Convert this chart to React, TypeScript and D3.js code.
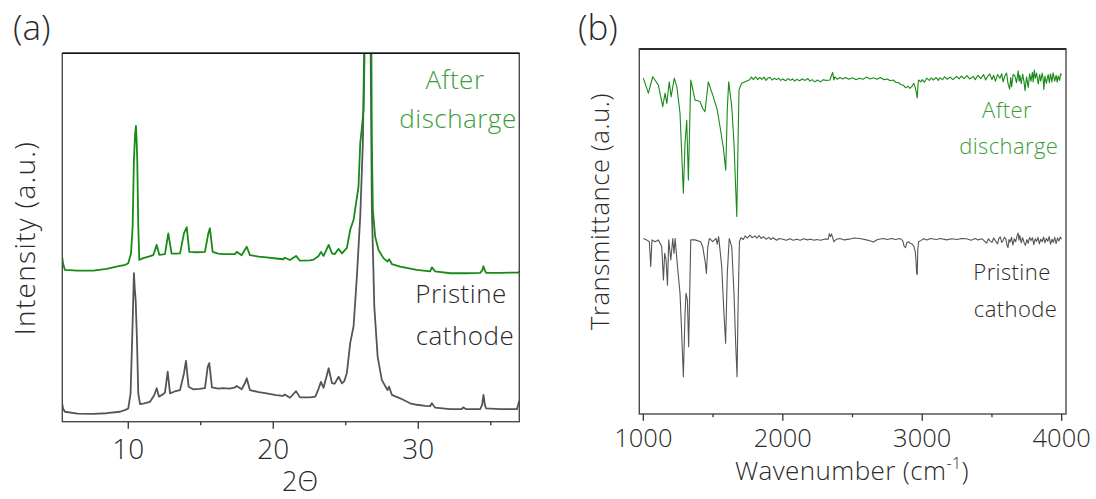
import React from "react";
import * as d3 from "d3";

// ---------- Panel (a): XRD ----------
const xrdPristine: [number, number][] = [
  [5.45, 4.8], [5.5, 3.6], [5.63, 2.7], [6.5, 2.2], [7.59, 2.1], [8.5, 2.3], [9.43, 2.7], [9.8, 3.2], [10.0, 3.6],
  [10.16, 7.7], [10.28, 24.0], [10.39, 40.3], [10.45, 36], [10.51, 33.0], [10.6, 22.2], [10.69, 7.7], [10.81, 4.8],
  [11.1, 5.0], [11.5, 5.4], [11.79, 7.2], [11.96, 9.1], [12.12, 6.8], [12.35, 7.3], [12.53, 7.9], [12.72, 13.6],
  [12.88, 7.7], [13.2, 8.2], [13.57, 8.6], [13.84, 13.1], [13.98, 16.5], [14.16, 9.5], [14.48, 8.8], [14.9, 8.9],
  [15.29, 9.1], [15.48, 14.9], [15.59, 15.9], [15.77, 9.3], [16.2, 9.0], [16.55, 9.1], [17.0, 9.0], [17.36, 9.3],
  [17.48, 9.7], [17.82, 8.8], [18.05, 10.5], [18.17, 11.8], [18.39, 8.6], [19.0, 8.0], [19.54, 7.7], [20.2, 7.2],
  [20.69, 7.0], [20.8, 7.4], [21.15, 6.5], [21.57, 8.3], [21.84, 6.6], [22.53, 6.6], [22.9, 6.8], [23.13, 9.0],
  [23.29, 10.8], [23.47, 9.2], [23.82, 14.5], [24.05, 10.5], [24.23, 10.3], [24.51, 12.2], [24.74, 10.4],
  [24.9, 11.0], [25.08, 13.3], [25.31, 21.4], [25.54, 25.9], [25.77, 39.5], [26.0, 55.8], [26.18, 75.6],
  [26.3, 110], [26.5, 160], [26.7, 110], [26.8, 58], [26.97, 31.2], [27.2, 17.6], [27.49, 11.3], [27.88, 8.6],
  [27.99, 9.5], [28.18, 7.3], [28.75, 6.35], [29.44, 5.0], [29.9, 4.6], [30.5, 4.3], [30.82, 4.2], [30.94, 5.0],
  [31.17, 3.8], [32.2, 3.4], [33.0, 3.4], [33.1, 3.9], [33.3, 3.4], [34.27, 3.4], [34.4, 4.5], [34.5, 7.3],
  [34.6, 4.5], [34.68, 3.6], [35.65, 3.4], [36.8, 3.4], [36.97, 5.6],
];

const xrdDischarged: [number, number][] = [
  [5.45, 44.5], [5.5, 43.0], [5.63, 41.2], [6.5, 41.0], [7.59, 41.0], [8.5, 41.5], [9.43, 42.3], [9.8, 42.6],
  [10.0, 43.0], [10.19, 45.7], [10.3, 52.9], [10.39, 71.0], [10.47, 78], [10.53, 80.3], [10.57, 77], [10.62, 71],
  [10.69, 52.9], [10.76, 43.9], [11.03, 44.4], [11.4, 44.8], [11.72, 45.2], [11.96, 48.0], [12.14, 45.3],
  [12.53, 45.5], [12.76, 51.1], [12.99, 45.6], [13.3, 45.6], [13.57, 45.7], [13.84, 51.1], [14.03, 52.8],
  [14.21, 46.1], [14.7, 46.0], [15.29, 46.1], [15.52, 51.1], [15.63, 52.5], [15.82, 46.1], [16.2, 45.6],
  [16.55, 45.5], [17.36, 45.5], [17.48, 46.1], [17.82, 45.2], [18.17, 47.5], [18.39, 45.2], [19.0, 44.8],
  [19.54, 44.6], [20.2, 44.3], [20.69, 44.1], [20.8, 44.5], [21.15, 43.9], [21.57, 45.0], [21.84, 43.7],
  [22.53, 43.8], [22.78, 44.0], [23.13, 45.0], [23.29, 46.1], [23.47, 45.0], [23.82, 48.0], [24.05, 45.7],
  [24.23, 45.5], [24.51, 46.9], [24.74, 45.7], [25.08, 47.2], [25.31, 52.1], [25.54, 54.8], [25.88, 63.8],
  [26.0, 75.6], [26.11, 79.7], [26.23, 84.7], [26.34, 110], [26.55, 160], [26.76, 110], [26.8, 75.6],
  [26.87, 57.5], [27.03, 50.2], [27.26, 46.6], [27.6, 44.4], [27.88, 43.5], [27.99, 44.1], [28.18, 42.8],
  [28.75, 42.1], [29.9, 41.2], [30.82, 40.8], [30.94, 41.9], [31.17, 40.8], [32.2, 40.3], [33.35, 40.3],
  [34.27, 40.4], [34.4, 41], [34.5, 42.2], [34.6, 41], [34.68, 40.4], [35.65, 40.4], [36.91, 40.5], [36.97, 40.8],
];

const xrdDomain: [number, number] = [5.45, 36.97];
const xrdMajorTicks = [10, 20, 30];
const xrdMinorTicks = [15, 25, 35];

// ---------- Panel (b): FTIR ----------
const ftirDischarged: [number, number][] = [
  [1000, 92.0], [1036, 87.9], [1067, 92.4], [1108, 90.1], [1139, 84.2], [1156, 87.9], [1168, 85.1], [1186, 91.0],
  [1199, 86.9], [1222, 92.0], [1240, 89.7], [1263, 82.4], [1275, 71.4], [1287, 60.5], [1299, 74.2], [1311, 80.5],
  [1323, 64.1], [1340, 91.5], [1371, 86.0], [1390, 85.8], [1406, 85.6], [1426, 83.7], [1442, 82.8], [1466, 91.0],
  [1502, 86.9], [1530, 83.3], [1550, 78.7], [1573, 73.2], [1591, 66.8], [1602, 83.3], [1612, 91.0], [1634, 84.2],
  [1650, 74.2], [1670, 54.1], [1677, 69.6], [1686, 88.8], [1705, 90.6], [1729, 91.0], [1760, 91.5], [1775, 92.3],
  [1790, 91.6], [1805, 92.4], [1820, 91.6], [1835, 92.2], [1850, 91.7], [1865, 92.3], [1880, 91.4], [1895, 92.1],
  [1908, 92.2], [1925, 91.5], [1940, 92.0], [1955, 91.6], [1970, 92.0], [1985, 91.4], [2000, 91.8], [2020, 91.3],
  [2040, 91.9], [2055, 91.4], [2070, 91.8], [2085, 91.2], [2100, 91.7], [2120, 91.3], [2140, 91.8], [2160, 91.4],
  [2180, 91.9], [2195, 91.2], [2210, 91.6], [2230, 91.0], [2250, 91.5], [2270, 91.0], [2290, 91.6], [2310, 91.4],
  [2338, 91.5], [2350, 92.8], [2358, 93.6], [2366, 91.5], [2374, 92.4], [2390, 91.7], [2410, 92.2], [2430, 91.8],
  [2450, 92.2], [2475, 91.7], [2500, 92.1], [2525, 91.6], [2550, 92.0], [2575, 91.7], [2601, 92.3], [2625, 91.8],
  [2650, 92.1], [2675, 91.7], [2700, 92.2], [2725, 91.6], [2750, 91.8], [2770, 91.3], [2792, 91.5], [2810, 90.9],
  [2830, 90.8], [2850, 90.2], [2864, 90.1], [2880, 89.4], [2900, 89.8], [2912, 89.2], [2924, 89.7], [2940, 90.6],
  [2950, 89.4], [2958, 88.0], [2964, 86.6], [2970, 90.4], [2974, 91.5], [2990, 91.0], [3000, 91.6], [3015, 90.9],
  [3032, 92.0], [3050, 91.4], [3065, 92.1], [3080, 91.5], [3100, 92.2], [3115, 91.4], [3127, 92.1], [3145, 91.6],
  [3160, 92.4], [3180, 91.7], [3200, 92.3], [3220, 91.6], [3247, 92.5], [3265, 91.8], [3280, 92.6], [3300, 91.9],
  [3320, 92.7], [3340, 91.8], [3366, 92.5], [3380, 91.6], [3400, 92.8], [3420, 91.9], [3440, 93.0], [3455, 91.5],
  [3470, 92.6], [3485, 93.1], [3500, 91.6], [3512, 92.8], [3525, 91.2], [3540, 93.0], [3557, 92.0], [3570, 93.2],
  [3580, 91.0], [3592, 92.6], [3605, 93.4], [3615, 90.6], [3627, 89.0], [3635, 92.2], [3641, 89.7], [3652, 93.0],
  [3665, 92.6], [3676, 90.8], [3688, 94.0], [3695, 91.2], [3700, 92.8], [3710, 90.5], [3720, 93.1], [3730, 91.0],
  [3737, 88.6], [3748, 92.4], [3760, 89.5], [3770, 93.2], [3780, 91.2], [3790, 93.6], [3796, 91.0], [3804, 94.2],
  [3811, 92.0], [3820, 93.4], [3832, 90.4], [3842, 93.0], [3850, 91.2], [3860, 93.4], [3867, 91.8], [3872, 88.9],
  [3880, 92.6], [3890, 90.6], [3903, 93.0], [3912, 90.8], [3920, 93.2], [3930, 91.0], [3939, 93.5], [3950, 91.2],
  [3960, 92.8], [3968, 90.9], [3975, 92.6], [3985, 91.4], [3992, 93.2], [3999, 92.8],
];

const ftirPristine: [number, number][] = [
  [1000, 48.1], [1024, 47.7], [1043, 47.2], [1053, 40.4], [1062, 47.7], [1084, 47.2], [1108, 47.7], [1132, 45.8],
  [1144, 36.7], [1153, 44.0], [1163, 42.2], [1173, 35.3], [1182, 47.7], [1197, 42.2], [1211, 48.1], [1220, 44.0],
  [1228, 48.1], [1245, 40.4], [1263, 33.1], [1275, 22.1], [1287, 10.2], [1299, 27.6], [1306, 33.1], [1316, 31.2],
  [1325, 18.4], [1340, 47.7], [1371, 47.7], [1411, 47.2], [1426, 45.8], [1445, 41.3], [1452, 38.5], [1462, 45.8],
  [1474, 48.1], [1498, 47.2], [1521, 48.1], [1530, 46.5], [1540, 48.6], [1562, 40.4], [1578, 27.6], [1590, 19.4],
  [1602, 38.5], [1616, 48.1], [1634, 45.8], [1650, 33.1], [1662, 19.4], [1672, 10.2], [1679, 28.5], [1689, 47.2],
  [1700, 48.3], [1717, 47.8], [1730, 48.8], [1745, 48.2], [1765, 49.0], [1780, 48.3], [1800, 48.8], [1815, 48.2],
  [1830, 48.9], [1845, 48.1], [1860, 48.6], [1880, 47.9], [1900, 48.4], [1915, 47.8], [1930, 48.3], [1956, 47.6],
  [1975, 48.1], [2000, 47.9], [2025, 47.6], [2050, 48.0], [2075, 47.6], [2100, 47.9], [2125, 47.6], [2150, 48.0],
  [2175, 47.7], [2200, 47.9], [2225, 47.6], [2243, 47.8], [2270, 47.6], [2300, 47.9], [2326, 47.9], [2334, 49.4],
  [2342, 48.6], [2350, 49.3], [2360, 48.0], [2367, 47.2], [2385, 47.9], [2410, 48.1], [2440, 47.7], [2477, 47.9],
  [2510, 48.2], [2553, 48.1], [2600, 47.7], [2630, 47.4], [2649, 47.1], [2680, 47.8], [2720, 48.1], [2750, 47.8],
  [2780, 48.1], [2810, 47.8], [2840, 48.1], [2860, 47.5], [2870, 46.0], [2880, 45.6], [2890, 47.0], [2900, 47.2],
  [2915, 46.8], [2930, 46.5], [2941, 45.8], [2950, 44.5], [2955, 42.2], [2960, 38.5], [2964, 38.2], [2968, 45.0],
  [2974, 47.2], [2990, 47.5], [3010, 48.0], [3032, 47.7], [3060, 48.1], [3100, 47.8], [3130, 48.1], [3175, 47.7],
  [3210, 48.0], [3250, 47.8], [3280, 48.1], [3318, 48.0], [3350, 47.6], [3380, 48.1], [3400, 47.7], [3430, 48.0],
  [3461, 46.8], [3475, 48.0], [3485, 47.5], [3500, 47.0], [3512, 48.2], [3524, 47.5], [3540, 46.6], [3550, 48.1],
  [3560, 48.5], [3570, 47.0], [3581, 47.6], [3590, 48.4], [3600, 47.9], [3608, 46.2], [3615, 45.6], [3622, 47.8],
  [3630, 47.1], [3640, 48.4], [3650, 46.3], [3660, 48.0], [3670, 47.2], [3680, 48.8], [3688, 49.6], [3694, 47.6],
  [3700, 48.9], [3710, 46.9], [3720, 48.3], [3730, 47.0], [3740, 46.2], [3750, 47.8], [3760, 46.8], [3770, 48.4],
  [3780, 47.5], [3790, 48.3], [3800, 46.4], [3810, 48.0], [3820, 47.3], [3830, 48.4], [3840, 46.6], [3850, 47.9],
  [3860, 47.2], [3870, 48.5], [3880, 46.9], [3890, 48.1], [3900, 47.3], [3910, 48.6], [3920, 46.5], [3930, 47.9],
  [3940, 47.0], [3950, 48.4], [3960, 46.7], [3970, 48.2], [3980, 47.4], [3990, 48.5], [3999, 47.9],
];

const ftirDomain: [number, number] = [971, 4031];
const ftirMajorTicks = [1000, 2000, 3000, 4000];
const ftirMinorTicks = [1500, 2500, 3500];

// ---------- styling ----------
const FONT = "'Open Sans', 'Noto Sans', sans-serif";
const GREEN_LINE = "#178a17";
const GREEN_TEXT = "#3c9c3c";
const GRAY_LINE = "#555555";
const TEXT = "#2a2a2a";

type PanelProps = {
  id: string;
  left: number; right: number; top: number; bottom: number;
  domain: [number, number];
  major: number[]; minor: number[];
  series: { data: [number, number][]; color: string; width: number }[];
  tickFont: number; tickBaseline: number; majorLen: number; minorLen: number;
};

function Panel(p: PanelProps) {
  const x = d3.scaleLinear().domain(p.domain).range([p.left, p.right]);
  const y = d3.scaleLinear().domain([0, 100]).range([p.bottom, p.top]);
  const line = d3.line<[number, number]>().x((d) => x(d[0])).y((d) => y(d[1]));
  return (
    <g>
      <defs>
        <clipPath id={p.id}>
          <rect x={p.left} y={p.top} width={p.right - p.left} height={p.bottom - p.top} />
        </clipPath>
      </defs>
      <g clipPath={`url(#${p.id})`}>
        {p.series.map((s, i) => (
          <path key={i} d={line(s.data) || ""} fill="none" stroke={s.color} strokeWidth={s.width} strokeLinejoin="round" />
        ))}
      </g>
      <rect x={p.left} y={p.top} width={p.right - p.left} height={p.bottom - p.top} fill="none" stroke="#4a4a4a" strokeWidth={1.4} />
      <line x1={p.left} x2={p.right} y1={p.top} y2={p.top} stroke="#111" strokeWidth={1.6} />
      {p.major.map((t) => (
        <g key={"M" + t}>
          <line x1={x(t)} x2={x(t)} y1={p.bottom} y2={p.bottom + p.majorLen} stroke="#333" strokeWidth={1.3} />
          <text x={x(t)} y={p.tickBaseline} textAnchor="middle" fontSize={p.tickFont} fill={TEXT} fontFamily={FONT} fontWeight={300}>
            {t}
          </text>
        </g>
      ))}
      {p.minor.map((t) => (
        <line key={"m" + t} x1={x(t)} x2={x(t)} y1={p.bottom} y2={p.bottom + p.minorLen} stroke="#333" strokeWidth={1.3} />
      ))}
    </g>
  );
}

export default function App() {
  return (
    <svg width={1096} height={499} style={{ position: "absolute", left: 0, top: 0, background: "#fff" }}>
      {/* Panel (a) */}
      <text x={13} y={40} fontSize={35} fill={TEXT} fontFamily={FONT} fontWeight={300}>(a)</text>
      <Panel
        id="clipA" left={62.3} right={519.3} top={53.3} bottom={421.7}
        domain={xrdDomain} major={xrdMajorTicks} minor={xrdMinorTicks}
        series={[
          { data: xrdPristine, color: GRAY_LINE, width: 1.8 },
          { data: xrdDischarged, color: GREEN_LINE, width: 1.8 },
        ]}
        tickFont={28} tickBaseline={459} majorLen={7} minorLen={3.5}
      />
      <text x={300} y={491} textAnchor="middle" fontSize={27} fill={TEXT} fontFamily={FONT} fontWeight={300}>2Θ</text>
      <text transform="translate(35,238) rotate(-90)" textAnchor="middle" fontSize={28} letterSpacing={1.3} fill={TEXT} fontFamily={FONT} fontWeight={300}>
        Intensity (a.u.)
      </text>
      <g fontFamily={FONT} fontWeight={300} fontSize={26} textAnchor="middle" letterSpacing={0.5}>
        <text x={455} y={89} fill={GREEN_TEXT}>After</text>
        <text x={458} y={128} fill={GREEN_TEXT}>discharge</text>
        <text x={461} y={303} fill={TEXT}>Pristine</text>
        <text x={465} y={345} fill={TEXT}>cathode</text>
      </g>

      {/* Panel (b) */}
      <text x={578} y={40} fontSize={35} fill={TEXT} fontFamily={FONT} fontWeight={300}>(b)</text>
      <Panel
        id="clipB" left={639.3} right={1066} top={49} bottom={414}
        domain={ftirDomain} major={ftirMajorTicks} minor={ftirMinorTicks}
        series={[
          { data: ftirPristine, color: GRAY_LINE, width: 1.1 },
          { data: ftirDischarged, color: GREEN_LINE, width: 1.1 },
        ]}
        tickFont={25.5} tickBaseline={447} majorLen={6.7} minorLen={3.3}
      />
      <text x={852} y={480} textAnchor="middle" fontSize={26} letterSpacing={0.4} fill={TEXT} fontFamily={FONT} fontWeight={300}>
        Wavenumber (cm<tspan fontSize={16} dy={-11}>-1</tspan><tspan dy={11}>)</tspan>
      </text>
      <text transform="translate(609,211.5) rotate(-90)" textAnchor="middle" fontSize={25.5} letterSpacing={0.6} fill={TEXT} fontFamily={FONT} fontWeight={300}>
        Transmittance (a.u.)
      </text>
      <g fontFamily={FONT} fontWeight={300} fontSize={22} textAnchor="middle" letterSpacing={0.4}>
        <text x={1007} y={118} fill={GREEN_TEXT}>After</text>
        <text x={1008.7} y={154} fill={GREEN_TEXT}>discharge</text>
        <text x={1012} y={280} fill={TEXT}>Pristine</text>
        <text x={1015.5} y={316.7} fill={TEXT}>cathode</text>
      </g>
    </svg>
  );
}
